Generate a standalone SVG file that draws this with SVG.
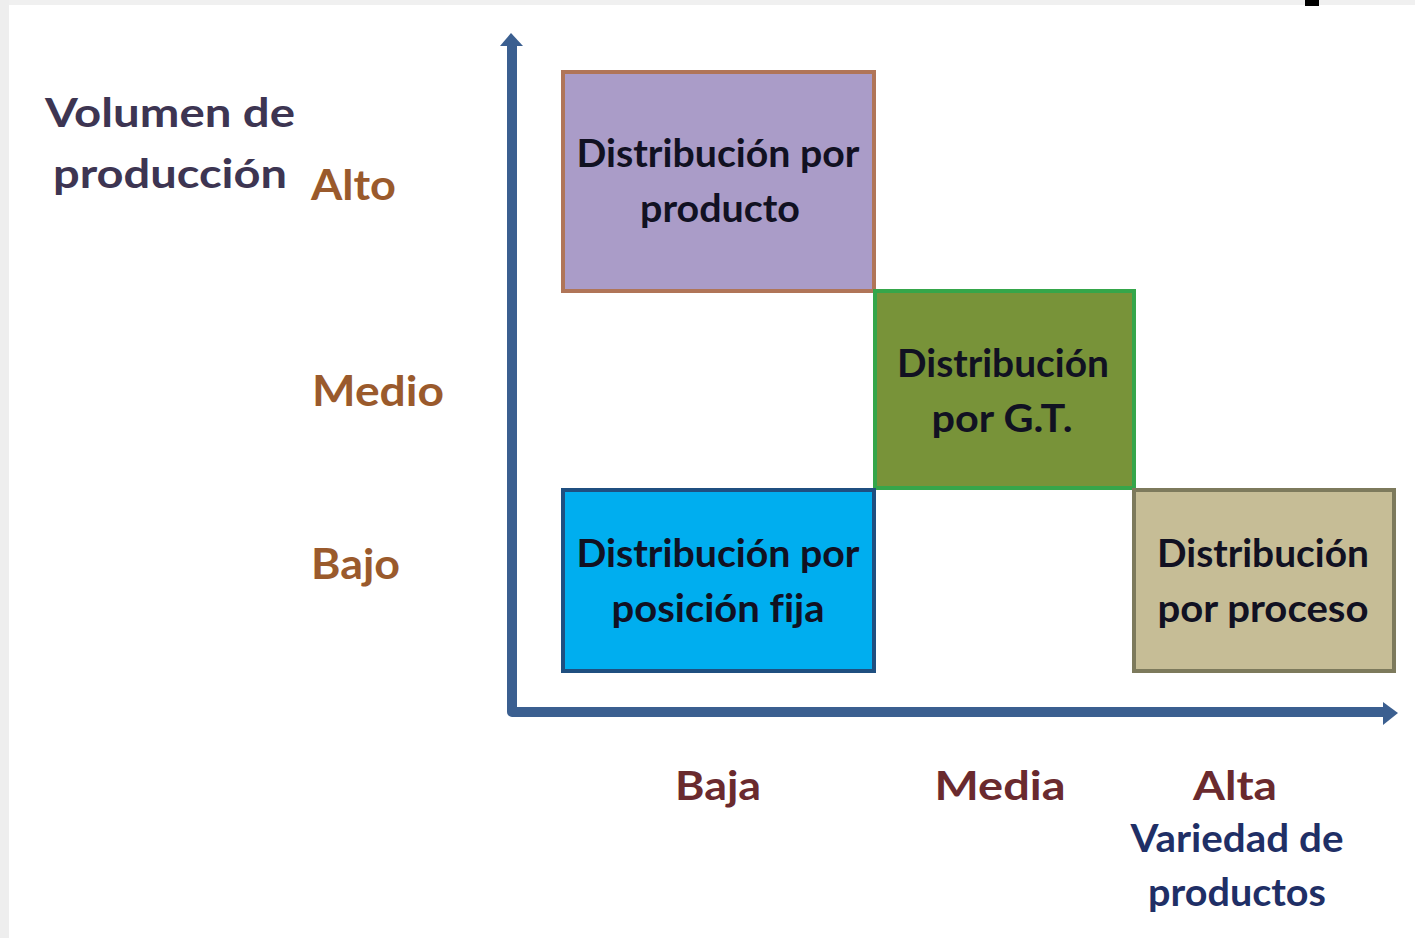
<svg xmlns="http://www.w3.org/2000/svg" width="1415" height="938" viewBox="0 0 1415 938">
<defs>
<style>
.t{font-family:Lato,"Open Sans","Liberation Sans",sans-serif;font-weight:bold;font-size:39px;font-variant-ligatures:none;font-feature-settings:"liga" 0;}
.box{fill:#111122;text-anchor:middle;}
.lvl{fill:#9a5a2c;font-size:42px;}
.var{fill:#6a2a2e;text-anchor:middle;font-size:41px;}
.ax{fill:#1f2f66;text-anchor:middle;}
.vol{fill:#3d3552;text-anchor:middle;font-size:41px;}
</style>
</defs>
<rect x="0" y="0" width="1415" height="938" fill="#ffffff"/>
<rect x="0" y="0" width="1415" height="5" fill="#f0f0f0"/>
<rect x="0" y="0" width="9" height="938" fill="#eeeeee"/>
<rect x="1305" y="0" width="14" height="6" fill="#000000"/>

<g id="connectors">
<path d="M512 44 V712 H1386" fill="none" stroke="#3b5f90" stroke-width="10" stroke-linejoin="round"/>
<polygon points="500,46 511,33 523,46" fill="#3b5f90"/>
<polygon points="1383,702 1398,713 1383,725" fill="#3b5f90"/>
</g>

<g id="labels-y">
<text class="t vol" x="170" y="127" textLength="250" lengthAdjust="spacingAndGlyphs">Volumen de</text>
<text class="t vol" x="170" y="188" textLength="234" lengthAdjust="spacingAndGlyphs">producción</text>
<text class="t lvl" x="311" y="200" textLength="85" lengthAdjust="spacingAndGlyphs">Alto</text>
<text class="t lvl" x="312" y="406" textLength="132" lengthAdjust="spacingAndGlyphs">Medio</text>
<text class="t lvl" x="311" y="579" textLength="89" lengthAdjust="spacingAndGlyphs">Bajo</text>
</g>

<g id="labels-x">
<text class="t var" x="718" y="800" textLength="86" lengthAdjust="spacingAndGlyphs">Baja</text>
<text class="t var" x="1000" y="800" textLength="131" lengthAdjust="spacingAndGlyphs">Media</text>
<text class="t var" x="1235" y="800" textLength="84" lengthAdjust="spacingAndGlyphs">Alta</text>
<text class="t ax" x="1237" y="852" textLength="213" lengthAdjust="spacingAndGlyphs">Variedad de</text>
<text class="t ax" x="1237" y="906" textLength="178" lengthAdjust="spacingAndGlyphs">productos</text>
</g>

<g id="node-producto">
<rect x="563" y="72" width="311" height="219" fill="#aa9cc8" stroke="#b07558" stroke-width="4"/>
<text class="t box" x="718" y="167" textLength="283" lengthAdjust="spacingAndGlyphs">Distribución por</text>
<text class="t box" x="720" y="222" textLength="160" lengthAdjust="spacingAndGlyphs">producto</text>
</g>

<g id="node-gt">
<rect x="875" y="291" width="259" height="197" fill="#789339" stroke="#35a64a" stroke-width="4"/>
<text class="t box" x="1003" y="377" textLength="212" lengthAdjust="spacingAndGlyphs">Distribución</text>
<text class="t box" x="1002" y="432" textLength="141" lengthAdjust="spacingAndGlyphs">por G.T.</text>
</g>

<g id="node-fija">
<rect x="563" y="490" width="311" height="181" fill="#00aeef" stroke="#1f4f80" stroke-width="4"/>
<text class="t box" x="718" y="567" textLength="283" lengthAdjust="spacingAndGlyphs">Distribución por</text>
<text class="t box" x="718" y="622" textLength="213" lengthAdjust="spacingAndGlyphs">posición fija</text>
</g>

<g id="node-proceso">
<rect x="1134" y="490" width="260" height="181" fill="#c6bd96" stroke="#7d7a5c" stroke-width="4"/>
<text class="t box" x="1263" y="567" textLength="212" lengthAdjust="spacingAndGlyphs">Distribución</text>
<text class="t box" x="1263" y="622" textLength="211" lengthAdjust="spacingAndGlyphs">por proceso</text>
</g>
</svg>
